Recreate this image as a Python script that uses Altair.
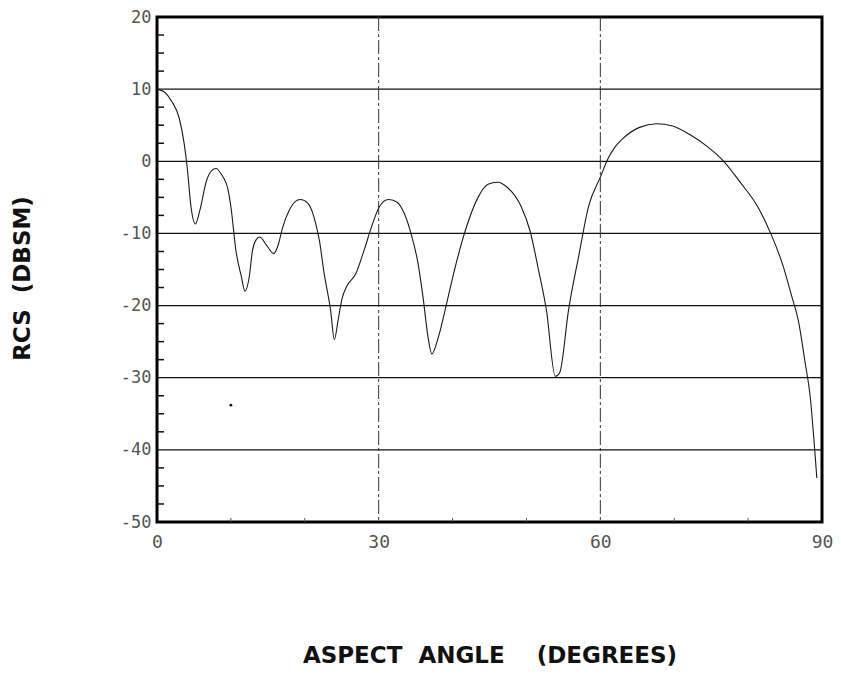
import altair as alt
import pandas as pd

# ---- data ----
angle = [0, 1, 2, 3, 3.7, 4.1, 4.6, 5.2, 5.8, 6.7, 7.4, 8.0, 8.7, 9.6, 10.0, 10.7, 11.4,
         11.9, 12.5, 12.9, 13.4, 13.9, 14.8, 15.8, 16.4, 17.0, 17.9, 18.7, 19.4, 20.4, 21.5,
         22.0, 22.6, 23.5, 24.0, 24.5, 25.0, 25.7, 26.9, 28.1, 29.0, 30.1, 31.3, 32.4, 33.5,
         34.4, 35.3, 36.0, 36.7, 37.2, 38.1, 39.2, 40.3, 41.7, 43.5, 44.8, 46.1, 47.5, 49.3,
         50.5, 51.6, 52.7, 53.9, 54.5, 55.7, 57.1, 58.4, 60.0, 61.1, 62.0, 63.0, 65.3, 67.6,
         69.8, 72.1, 74.4, 76.7, 79.0, 81.3, 83.1, 84.7, 85.9, 86.8, 87.7, 88.4, 89.0, 89.3]
rcs = [10, 9.6, 8.3, 6.0, 2.3, -1, -6.3, -8.7, -6.8, -2.7, -1.3, -1.0, -1.8, -3.9, -6.3,
       -12.5, -15.9, -18.0, -15.9, -12.5, -10.9, -10.5, -11.6, -12.8, -11.6, -9.2, -6.8,
       -5.6, -5.3, -5.8, -8.7, -11.1, -15.4, -20.7, -24.7, -22.1, -19.2, -17.3, -15.6,
       -12.1, -9.2, -6.3, -5.3, -5.6, -7.3, -10.1, -14.0, -18.8, -24.5, -26.7, -24.3,
       -19.7, -14.9, -9.7, -4.9, -3.2, -2.9, -3.7, -6.3, -9.7, -14.9, -20.6, -29.8, -29.3,
       -20.6, -13.0, -6.3, -2.2, 0.5, 2.0, 3.1, 4.7, 5.2, 4.9, 3.7, 2.1, 0, -3.0, -6.3,
       -10.1, -14.4, -18.7, -22.1, -27.8, -32.6, -39.8, -43.9]

x_tick_values = [0, 30, 60, 90]
y_tick_values = [20, 10, 0, -10, -20, -30, -40, -50]
h_grid = [10, 0, -10, -20, -30, -40]
v_grid = [30, 60]
y_minor = [17.5, 15, 12.5, 7.5, 5, 2.5, -2.5, -5, -7.5, -12.5, -15, -17.5, -22.5, -25,
           -27.5, -32.5, -35, -37.5, -42.5, -45, -47.5]
x_minor = [10, 20, 40, 50, 70, 80]
stray_angle = [10.0]
stray_rcs = [-33.8]

X_TITLE = "ASPECT\u00a0\u00a0ANGLE\u00a0\u00a0\u00a0\u00a0(DEGREES)"
Y_TITLE = "RCS\u00a0\u00a0(DBSM)"

curve_df = pd.DataFrame({"angle": angle, "rcs": rcs})
hgrid_df = pd.DataFrame({"rcs": h_grid})
vgrid_df = pd.DataFrame({"angle": v_grid})
yminor_df = pd.DataFrame({"rcs": y_minor})
xminor_df = pd.DataFrame({"angle": x_minor})
stray_df = pd.DataFrame({"angle": stray_angle, "rcs": stray_rcs})

xs = alt.Scale(domain=[0, 90], nice=False, zero=False)
ys = alt.Scale(domain=[-50, 20], nice=False, zero=False)

W, H = 665, 505

x_axis = alt.Axis(
    values=x_tick_values, grid=False, domain=False, ticks=False,
    labelFont="DejaVu Sans Mono", labelFontSize=18, labelColor="#555555",
    labelPadding=11, labelBaseline="top", labelFlush=False,
    title=X_TITLE, titleFont="DejaVu Sans", titleFontSize=23, titleFontWeight="bold",
    titleColor="#111111", titleX=W / 2, titleY=133, titleAlign="center",
    titleBaseline="middle", titleAnchor="middle",
)
y_axis = alt.Axis(
    values=y_tick_values, grid=False, domain=False, ticks=False,
    labelFont="DejaVu Sans Mono", labelFontSize=17, labelColor="#555555",
    labelPadding=6, labelBaseline="middle", labelFlush=False,
    labelExpr="datum.value + ''",
    title=Y_TITLE, titleFont="DejaVu Sans", titleFontSize=23, titleFontWeight="bold",
    titleColor="#111111", titleX=-135, titleY=261, titleAlign="center",
    titleBaseline="middle", titleAngle=270,
)

hgrid = alt.Chart(hgrid_df).mark_rule(color="#111111", strokeWidth=1.2).encode(
    y=alt.Y("rcs:Q", scale=ys)
)
vgrid = alt.Chart(vgrid_df).mark_rule(
    color="#333333", strokeWidth=1, strokeDash=[14, 3, 3, 3]
).encode(x=alt.X("angle:Q", scale=xs))

yminor = alt.Chart(yminor_df).mark_rule(color="#111111", strokeWidth=1.5).encode(
    y=alt.Y("rcs:Q", scale=ys),
    x=alt.value(0), x2=alt.value(7),
)
xminor = alt.Chart(xminor_df).mark_rule(color="#555555", strokeWidth=1).encode(
    x=alt.X("angle:Q", scale=xs),
    y=alt.value(H - 4), y2=alt.value(H),
)

curve = alt.Chart(curve_df).mark_line(
    color="#1a1a1a", strokeWidth=1.1, interpolate="monotone"
).encode(
    x=alt.X("angle:Q", scale=xs, axis=x_axis),
    y=alt.Y("rcs:Q", scale=ys, axis=y_axis),
)

stray = alt.Chart(stray_df).mark_point(
    filled=True, color="#111111", size=8, opacity=1
).encode(
    x=alt.X("angle:Q", scale=xs),
    y=alt.Y("rcs:Q", scale=ys),
)

chart = alt.layer(curve, hgrid, vgrid, yminor, xminor, stray).properties(
    width=W, height=H,
    autosize=alt.AutoSizeParams(type="none"),
    padding={"left": 149, "top": 9, "right": 11, "bottom": 144},
    background="white",
).configure_view(stroke="black", strokeWidth=3)

chart.save("out.html", embed_options={"renderer": "svg", "actions": False})
